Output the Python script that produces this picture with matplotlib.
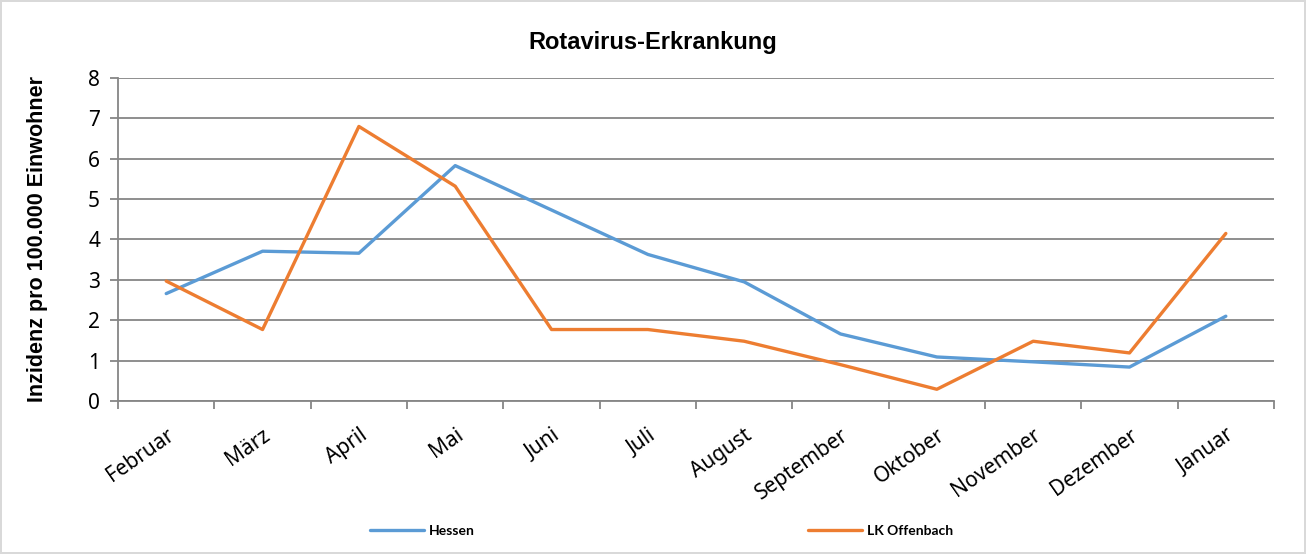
import numpy as np
import matplotlib
matplotlib.use("Agg")
from matplotlib import pyplot as plt

months = ['Februar', 'März', 'April', 'Mai', 'Juni', 'Juli', 'August',
          'September', 'Oktober', 'November', 'Dezember', 'Januar']
hessen = [2.66, 3.71, 3.66, 5.83, 4.73, 3.63, 2.95, 1.66, 1.09, 0.97, 0.84, 2.10]
offenbach = [2.97, 1.77, 6.80, 5.32, 1.77, 1.77, 1.48, 0.90, 0.29, 1.48, 1.19, 4.15]

blue = '#5B9BD5'
orange = '#ED7D31'
grid = '#868686'

fig = plt.figure(figsize=(13.06, 5.54), dpi=100)
fig.patch.set_edgecolor('#D9D9D9')
fig.patch.set_linewidth(1.5)
ax = fig.add_axes([0.0904, 0.2762, 0.8851, 0.583])

x = np.arange(len(months))
ax.plot(x, hessen, color=blue, lw=2.4, label='Hessen', solid_capstyle='round')
ax.plot(x, offenbach, color=orange, lw=2.4, label='LK Offenbach', solid_capstyle='round')

ax.set_xlim(-0.5, len(months) - 0.5)
ax.set_ylim(0, 8)
ax.set_yticks(range(0, 9))
ax.yaxis.grid(True, color=grid, lw=1.3)
ax.set_axisbelow(True)

ax.set_xticks(x)
ax.set_xticklabels(months, rotation=35, ha='right', rotation_mode='anchor',
                   family='Noto Sans', fontsize=15)
ax.set_xticks(np.arange(-0.5, len(months)), minor=True)
ax.tick_params(axis='x', which='major', length=0, pad=17)
ax.tick_params(axis='x', which='minor', length=6, color=grid, width=1.3)
ax.tick_params(axis='y', length=6, color=grid, width=1.3, labelsize=15, pad=7)
for lab in ax.get_yticklabels():
    lab.set_family('Noto Sans')

for s in ['top', 'right']:
    ax.spines[s].set_visible(False)
for s in ['left', 'bottom']:
    ax.spines[s].set_color(grid)
    ax.spines[s].set_linewidth(1.3)

fig.text(0.5, 1 - 42 / 554, 'Rotavirus-Erkrankung', fontsize=17, fontweight='bold',
         family='Liberation Sans', ha='center', va='center')
ax.set_ylabel('Inzidenz pro 100.000 Einwohner', fontsize=15.5, fontweight='bold',
              family='Liberation Sans')
ax.yaxis.set_label_coords(-0.061, 0.5)

fig.legend(loc='center', bbox_to_anchor=(0.5065, 0.042), ncol=2, frameon=False,
           prop={'family': 'Lato', 'weight': 'bold', 'size': 10},
           handlelength=3.9, handletextpad=0.35, columnspacing=24)

fig.savefig('out.png', dpi=100)
